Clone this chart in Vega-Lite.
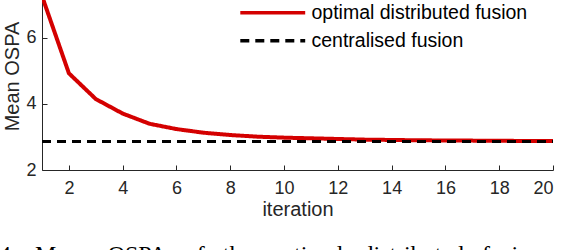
{
  "$schema": "https://vega.github.io/schema/vega-lite/v6.json",
  "width": 511,
  "height": 170,
  "padding": {"left": -2, "top": 0, "right": 8, "bottom": 5},
  "config": {
    "view": {"stroke": null},
    "font": "Liberation Sans",
    "axis": {
      "grid": false,
      "domainColor": "#262626",
      "tickColor": "#262626",
      "labelColor": "#262626",
      "titleColor": "#262626",
      "labelFont": "Liberation Sans",
      "titleFont": "Liberation Sans",
      "labelFontSize": 18,
      "titleFontSize": 20,
      "titleFontWeight": "normal",
      "tickSize": -5,
      "domainWidth": 1,
      "tickWidth": 1
    }
  },
  "title": {
    "text": "4.\u00a0\u00a0\u00a0Mean\u00a0\u00a0\u00a0OSPA\u00a0\u00a0\u00a0of\u00a0\u00a0\u00a0the\u00a0\u00a0\u00a0optimal\u00a0\u00a0\u00a0distributed\u00a0\u00a0\u00a0fusion",
    "orient": "bottom",
    "anchor": "start",
    "frame": "bounds",
    "font": "Liberation Serif",
    "fontSize": 24,
    "fontWeight": "normal",
    "color": "#000000",
    "offset": 24,
    "dx": -3
  },
  "data": {
    "values": [
      {"series": "optimal distributed fusion", "iteration": 1, "ospa": 7.27},
      {"series": "optimal distributed fusion", "iteration": 2, "ospa": 4.93},
      {"series": "optimal distributed fusion", "iteration": 3, "ospa": 4.15},
      {"series": "optimal distributed fusion", "iteration": 4, "ospa": 3.71},
      {"series": "optimal distributed fusion", "iteration": 5, "ospa": 3.4},
      {"series": "optimal distributed fusion", "iteration": 6, "ospa": 3.24},
      {"series": "optimal distributed fusion", "iteration": 7, "ospa": 3.13},
      {"series": "optimal distributed fusion", "iteration": 8, "ospa": 3.06},
      {"series": "optimal distributed fusion", "iteration": 9, "ospa": 3.01},
      {"series": "optimal distributed fusion", "iteration": 10, "ospa": 2.98},
      {"series": "optimal distributed fusion", "iteration": 11, "ospa": 2.96},
      {"series": "optimal distributed fusion", "iteration": 12, "ospa": 2.94},
      {"series": "optimal distributed fusion", "iteration": 13, "ospa": 2.92},
      {"series": "optimal distributed fusion", "iteration": 14, "ospa": 2.91},
      {"series": "optimal distributed fusion", "iteration": 15, "ospa": 2.9},
      {"series": "optimal distributed fusion", "iteration": 16, "ospa": 2.895},
      {"series": "optimal distributed fusion", "iteration": 17, "ospa": 2.89},
      {"series": "optimal distributed fusion", "iteration": 18, "ospa": 2.885},
      {"series": "optimal distributed fusion", "iteration": 19, "ospa": 2.88},
      {"series": "optimal distributed fusion", "iteration": 20, "ospa": 2.88},
      {"series": "centralised fusion", "iteration": 1, "ospa": 2.86},
      {"series": "centralised fusion", "iteration": 20, "ospa": 2.86}
    ]
  },
  "encoding": {
    "x": {
      "field": "iteration",
      "type": "quantitative",
      "scale": {"domain": [1, 20], "nice": false, "zero": false},
      "axis": {"values": [2, 4, 6, 8, 10, 12, 14, 16, 18, 20], "title": "iteration", "labelPadding": 14, "titlePadding": 2}
    },
    "y": {
      "field": "ospa",
      "type": "quantitative",
      "scale": {"domain": [2, 7.15], "nice": false, "zero": false},
      "axis": {"values": [2, 4, 6], "title": "Mean OSPA", "labelPadding": 11, "titleX": -24, "titleY": 76, "titleBaseline": "alphabetic"}
    },
    "color": {
      "field": "series",
      "type": "nominal",
      "scale": {"domain": ["optimal distributed fusion", "centralised fusion"], "range": ["#d40000", "#000000"]},
      "legend": {"title": null, "orient": "none", "legendX": 221, "legendY": 3, "symbolType": "M-6,0H6", "symbolSize": 117, "symbolStrokeWidth": 3.5, "labelFontSize": 19.5, "labelColor": "#000000", "labelFont": "Liberation Sans", "labelOffset": 29, "labelLimit": 0, "rowPadding": 7, "padding": 0}
    },
    "strokeDash": {
      "field": "series",
      "type": "nominal",
      "scale": {"domain": ["optimal distributed fusion", "centralised fusion"], "range": [[1, 0], [9, 6]]},
      "legend": {"title": null, "orient": "none", "legendX": 221, "legendY": 3, "symbolType": "M-6,0H6", "symbolSize": 117, "symbolStrokeWidth": 3.5, "labelFontSize": 19.5, "labelColor": "#000000", "labelFont": "Liberation Sans", "labelOffset": 29, "labelLimit": 0, "rowPadding": 7, "padding": 0}
    }
  },
  "layer": [
    {
      "transform": [{"filter": "datum.series === 'optimal distributed fusion'"}],
      "mark": {"type": "line", "strokeWidth": 4, "clip": true}
    },
    {
      "transform": [{"filter": "datum.series === 'centralised fusion'"}],
      "mark": {"type": "line", "strokeWidth": 3}
    }
  ]
}
